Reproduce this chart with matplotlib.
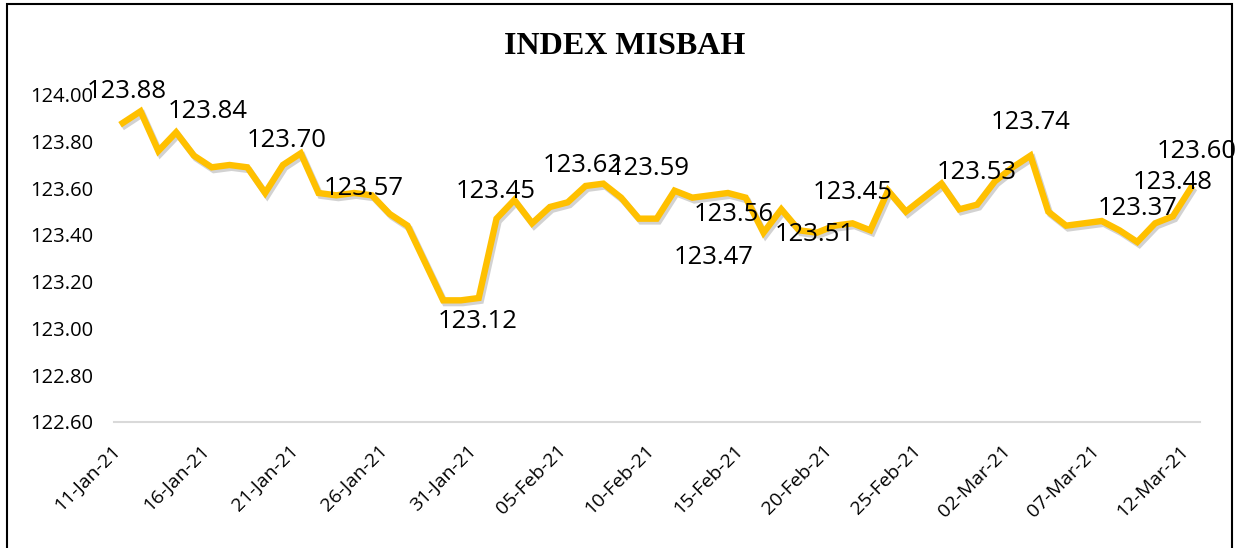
import matplotlib
matplotlib.use('Agg')
import matplotlib.pyplot as plt
import matplotlib.dates as mdates
import matplotlib.patheffects as pe
from matplotlib.patches import Rectangle
from matplotlib.transforms import ScaledTranslation
import pandas as pd

# dados diarios do indice (11-Jan-21 a 12-Mar-21)
start_date = '2021-01-11'
end_date = '2021-03-12'
values = [
    123.88, 123.93, 123.76, 123.84, 123.74, 123.69, 123.70, 123.69, 123.58, 123.70,
    123.75, 123.58, 123.57, 123.58, 123.57, 123.49, 123.44, 123.28, 123.12, 123.12,
    123.13, 123.47, 123.55, 123.45, 123.52, 123.54, 123.61, 123.62, 123.56, 123.47,
    123.47, 123.59, 123.56, 123.57, 123.58, 123.56, 123.41, 123.51, 123.42, 123.41,
    123.44, 123.45, 123.42, 123.59, 123.50, 123.56, 123.62, 123.51, 123.53, 123.63,
    123.69, 123.74, 123.50, 123.44, 123.45, 123.46, 123.42, 123.37, 123.45, 123.48,
    123.60,
]
# pontos com rotulo de dados
label_idx = [0, 3, 9, 12, 19, 23, 27, 31, 29, 35, 37, 41, 48, 51, 57, 59, 60]
# deslocamento do rotulo em pixels (dx, dy)
label_offsets = [(4, 31), (32, 21), (4, 24), (27, 7), (17, -21), (-36, 32), (-21, 18),
                 (-25, 22), (75, -39), (-12, -17), (33, -25), (0, 31), (0, 32),
                 (0, 33), (0, 33), (0, 34), (6, 37)]
y_ticks = [122.60, 122.80, 123.00, 123.20, 123.40, 123.60, 123.80, 124.00]
title = 'INDEX MISBAH'

dates = pd.date_range(start_date, end_date, freq='D')

fig = plt.figure(figsize=(12.4, 5.48), dpi=100)
ax = fig.add_axes([0.0918, 0.2305, 0.8756, 0.5962])

# linha principal com sombra
ax.plot(dates, values, color='#FFC000', linewidth=4.6, solid_joinstyle='miter',
        path_effects=[pe.SimpleLineShadow(offset=(1.5, -2), shadow_color='gray', alpha=0.35),
                      pe.Normal()], zorder=3)

# rotulos de dados
for i, (dx, dy) in zip(label_idx, label_offsets):
    ax.annotate(f'{values[i]:.2f}', (dates[i], values[i]), xytext=(dx, dy),
                textcoords='offset pixels', ha='center', va='center',
                fontsize=18.5, family='Open Sans', color='black', zorder=4)

# eixos
half = pd.Timedelta(hours=12)
ax.set_xlim(dates[0] - half, dates[-1] + half)
ax.set_ylim(122.60, 124.00)
ax.set_yticks(y_ticks)
ax.set_yticklabels([f'{t:.2f}' for t in y_ticks], family='Open Sans', fontsize=14.5)
ax.set_xticks(dates[::5])
ax.xaxis.set_major_formatter(mdates.DateFormatter('%d-%b-%y'))
ax.tick_params(axis='both', length=0)
ax.tick_params(axis='y', pad=15)
ax.tick_params(axis='x', pad=19)

for lbl in ax.get_xticklabels():
    lbl.set_rotation(45)
    lbl.set_ha('right')
    lbl.set_va('center')
    lbl.set_rotation_mode('anchor')
    lbl.set_family('Open Sans')
    lbl.set_fontsize(14)
    lbl.set_transform(lbl.get_transform() + ScaledTranslation(-0.05, 0, fig.dpi_scale_trans))

for side in ['top', 'right', 'left']:
    ax.spines[side].set_visible(False)
ax.spines['bottom'].set_color('#D9D9D9')
ax.spines['bottom'].set_linewidth(1.5)

# titulo
fig.text(0.504, 0.915, title, ha='center', va='center', fontsize=23,
         family='Liberation Serif', fontweight='bold')

# borda do grafico
fig.patches.append(Rectangle((7 / 1240, -0.01), 1225 / 1240, 1.01 - 4 / 548,
                             transform=fig.transFigure, fill=False,
                             edgecolor='black', linewidth=1.5))

plt.savefig('out.png', dpi=100)
